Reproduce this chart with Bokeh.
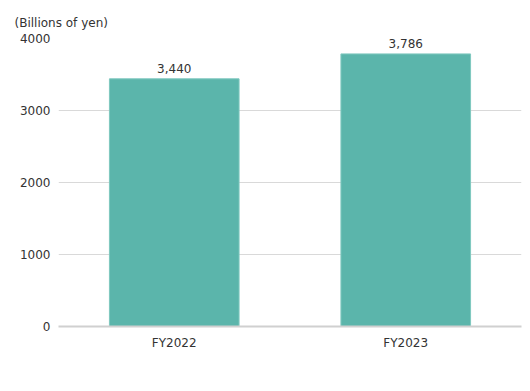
from bokeh.plotting import figure
from bokeh.models import ColumnDataSource, FixedTicker
from bokeh.core.properties import value
from bokeh.embed import file_html
from bokeh.resources import INLINE

categories = ["FY2022", "FY2023"]
values = [3440, 3786]
value_labels = ["3,440", "3,786"]
y_ticks = [0, 1000, 2000, 3000, 4000]

FONT = "DejaVu Sans"
TEXT = "#333333"

src = ColumnDataSource(dict(cat=categories, val=values, lab=value_labels))

p = figure(x_range=categories, y_range=(0, 4000), width=530, height=391,
           output_backend="svg", toolbar_location=None,
           min_border_left=58, min_border_right=9, min_border_top=38, min_border_bottom=65)
p.outline_line_color = None
p.background_fill_color = "white"
p.border_fill_color = "white"

p.title.text = "(Billions of yen)"
p.title.align = "left"
p.title.offset = -44
p.title.text_font = FONT
p.title.text_font_size = "12px"
p.title.text_font_style = "normal"
p.title.text_color = TEXT
p.title.standoff = 17

p.vbar(x="cat", top="val", width=0.56, source=src, fill_color="#5BB5AB", line_color="#7FC8BF", line_width=1)
p.text(x="cat", y="val", text="lab", source=src, text_align="center", text_baseline="bottom",
       y_offset=-6, text_font=value(FONT), text_font_size="12px", text_color=TEXT)

p.yaxis.ticker = FixedTicker(ticks=y_ticks)
p.yaxis.axis_line_color = None
p.yaxis.major_tick_line_color = None
p.yaxis.minor_tick_line_color = None
p.yaxis.major_label_text_font = FONT
p.yaxis.major_label_text_font_size = "12px"
p.yaxis.major_label_text_color = TEXT
p.yaxis.major_label_standoff = 2

p.xaxis.axis_line_color = "#d0d0d0"
p.xaxis.axis_line_width = 2
p.xaxis.major_tick_line_color = None
p.xaxis.minor_tick_line_color = None
p.xaxis.major_label_text_font = FONT
p.xaxis.major_label_text_font_size = "12px"
p.xaxis.major_label_text_color = TEXT
p.xaxis.major_label_standoff = 3

p.xgrid.grid_line_color = None
p.ygrid.grid_line_color = "#d9d9d9"
p.ygrid.grid_line_width = 1

open("out.html", "w").write(file_html(p, INLINE))
